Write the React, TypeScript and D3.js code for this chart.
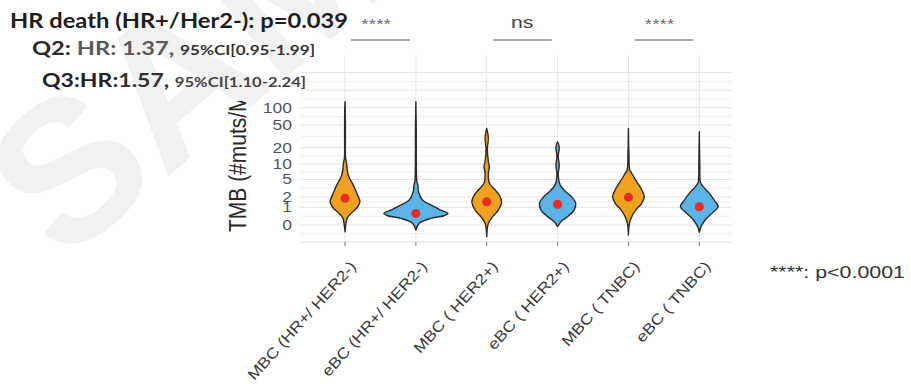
import * as d3 from "d3";

const W = 911;
const H = 388;

// categories along the x axis
const categories = [
  "MBC (HR+/ HER2-)",
  "eBC (HR+/ HER2-)",
  "MBC ( HER2+)",
  "eBC ( HER2+)",
  "MBC ( TNBC)",
  "eBC ( TNBC)",
];
const fills = ["#f0a21e", "#5bb4e5", "#f0a21e", "#5bb4e5", "#f0a21e", "#5bb4e5"];

// mean TMB (red dots)
const means = [1.86, 0.58, 1.5, 1.26, 1.97, 1.05];

// violin outlines: [TMB, relative density]
const violinMbcHr = [
  [-0.3, 0], [0.07, 0.03], [0.3, 0.06], [0.58, 0.18], [0.93, 0.35], [1.5, 0.45],
  [2.25, 0.38], [3.8, 0.25], [6.1, 0.1], [11, 0.04], [12.8, 0.018], [30, 0.012],
  [80, 0.01], [126.6, 0],
];
const violinEbcHr = [
  [-0.22, 0], [0.07, 0.1], [0.3, 0.45], [0.44, 0.85], [0.58, 0.97], [0.8, 0.76],
  [1.2, 0.45], [1.67, 0.2], [2.7, 0.08], [3.8, 0.06], [4.5, 0.03], [10, 0.015],
  [40, 0.012], [126.6, 0],
];
const violinMbcHer2 = [
  [-0.58, 0], [0.07, 0.05], [0.39, 0.18], [0.8, 0.35], [1.5, 0.45], [2.25, 0.38],
  [3.0, 0.25], [4.2, 0.08], [6.6, 0.05], [8.9, 0.08], [11, 0.05], [19.4, 0.02],
  [29.2, 0.05], [43.8, 0],
];
const violinEbcHer2 = [
  [-0.065, 0], [0.14, 0.1], [0.39, 0.3], [0.8, 0.5], [1.35, 0.55], [2.04, 0.42],
  [2.7, 0.25], [3.8, 0.08], [6.1, 0.02], [9.6, 0.05], [13.7, 0.02], [20.7, 0.05],
  [25.5, 0],
];
const violinMbcTnbc = [
  [-0.48, 0], [0.07, 0.03], [0.39, 0.1], [0.8, 0.22], [1.35, 0.4], [2.04, 0.48],
  [3.0, 0.4], [4.5, 0.25], [6.6, 0.1], [7.7, 0.04], [15, 0.015], [43.8, 0],
];
const violinEbcTnbc = [
  [-0.33, 0], [-0.065, 0.05], [0.22, 0.18], [0.58, 0.38], [1.05, 0.57], [1.67, 0.45],
  [2.5, 0.3], [3.8, 0.08], [4.5, 0.03], [10, 0.015], [38.2, 0],
];
const violins = [violinMbcHr, violinEbcHr, violinMbcHer2, violinEbcHer2, violinMbcTnbc, violinEbcTnbc];

const tickValues = [0, 1, 2, 5, 10, 20, 50, 100];
const gridBreaks = [0, 1, 2, 5, 10, 20, 50, 100, 200, 400];

const brackets = [
  { from: 0, to: 1, label: "****" },
  { from: 2, to: 3, label: "ns" },
  { from: 4, to: 5, label: "****" },
];

const PANEL = { left: 301, right: 731, top: 55, bottom: 242 };
const STRETCH = 1.25;
const SANS = "'Liberation Sans', Arial, sans-serif";
const TITLE_FONT = "Lato, 'Open Sans', sans-serif";

export default function App() {
  const y = d3.scaleSymlog().constant(1).domain([-0.95, 800]).range([PANEL.bottom, PANEL.top]);
  const x = d3.scalePoint<string>().domain(categories).range([345, 699.3]);
  const w = d3.scaleLinear().domain([0, 1]).range([0, 33]);

  // minor grid lines half way between breaks (in screen space)
  const minor: number[] = [];
  const allBreaks = [-0.95, ...gridBreaks];
  for (let i = 0; i < allBreaks.length - 1; i++) {
    minor.push(y.invert((y(allBreaks[i]) + y(allBreaks[i + 1])) / 2));
  }

  return (
    <svg width={W} height={H} style={{ position: "absolute", left: 0, top: 0, background: "#fff" }}>
      {/* faint watermark */}
      <text
        transform="translate(62,265) rotate(-40)"
        fontFamily={SANS}
        fontWeight="bold"
        fontSize={200}
        fill="#f1f1f1"
      >
        SAMPLE
      </text>

      {/* grid */}
      {minor.map((v, i) => (
        <line key={"mn" + i} x1={PANEL.left} x2={PANEL.right} y1={y(v)} y2={y(v)} stroke="#ececec" strokeWidth={0.8} />
      ))}
      {gridBreaks.map((v) => (
        <line key={"mj" + v} x1={PANEL.left} x2={PANEL.right} y1={y(v)} y2={y(v)} stroke="#e2e2e2" strokeWidth={1} />
      ))}
      {categories.map((c) => (
        <line key={"v" + c} x1={x(c)} x2={x(c)} y1={PANEL.top} y2={PANEL.bottom} stroke="#e6e6e6" strokeWidth={1} />
      ))}
      <line x1={PANEL.left} x2={PANEL.right} y1={PANEL.bottom} y2={PANEL.bottom} stroke="#e2e2e2" />

      {/* violins */}
      {violins.map((pts, i) => {
        const cx = x(categories[i])!;
        const area = d3
          .area<number[]>()
          .y((d) => y(d[0]))
          .x0((d) => cx - w(d[1]))
          .x1((d) => cx + w(d[1]))
          .curve(d3.curveCatmullRom.alpha(0.5));
        return (
          <g key={"vi" + i}>
            <path d={area(pts) || ""} fill={fills[i]} stroke="#2b2b2b" strokeWidth={1.4} strokeLinejoin="round" />
            <circle cx={cx} cy={y(means[i])} r={4.5} fill="#ee2a24" />
          </g>
        );
      })}

      {/* x ticks */}
      {categories.map((c) => (
        <line key={"t" + c} x1={x(c)} x2={x(c)} y1={PANEL.bottom} y2={PANEL.bottom + 4} stroke="#777" />
      ))}

      {/* y tick labels */}
      {tickValues.map((v) => (
        <text
          key={"yl" + v}
          transform={`translate(292,${y(v) + 5}) scale(${STRETCH},1)`}
          textAnchor="end"
          fontFamily={SANS}
          fontSize={14}
          fill="#505464"
        >
          {v}
        </text>
      ))}

      {/* y axis title, cut off at the top */}
      <clipPath id="ytitle">
        <rect x={200} y={101} width={80} height={200} />
      </clipPath>
      <g clipPath="url(#ytitle)">
        <text
          transform={`translate(246,232) scale(1.1,1) rotate(-90)`}
          fontFamily={SANS}
          fontSize={21}
          fill="#2a2a2a"
        >
          TMB (#muts/Mb)
        </text>
      </g>

      {/* x tick labels */}
      {categories.map((c) => (
        <text
          key={"xl" + c}
          transform={`translate(${x(c)! + 12},267) rotate(-48) scale(1.17,1)`}
          textAnchor="end"
          fontFamily={SANS}
          fontSize={15}
          fill="#3a3a3a"
        >
          {c}
        </text>
      ))}

      {/* significance brackets */}
      {brackets.map((b, i) => {
        const x1 = x(categories[b.from])! + 6;
        const x2 = x(categories[b.to])! - 6;
        const mid = (x1 + x2) / 2;
        return (
          <g key={"br" + i}>
            <line x1={x1} x2={x2} y1={40} y2={40} stroke="#a9a9a9" strokeWidth={2} />
            {b.label === "ns" ? (
              <text transform={`translate(${mid},28) scale(${STRETCH},1)`} textAnchor="middle" fontFamily={SANS} fontSize={17} fill="#444">
                ns
              </text>
            ) : (
              <text transform={`translate(${mid - 4},29) scale(${STRETCH},1)`} textAnchor="middle" fontFamily={SANS} fontSize={14} fill="#666" letterSpacing={0.5}>
                {b.label}
              </text>
            )}
          </g>
        );
      })}

      {/* legend for stars */}
      <text x={770} y={278} fontFamily={SANS} fontSize={16} fill="#333" textLength={135} lengthAdjust="spacingAndGlyphs">
        ****: p&lt;0.0001
      </text>

      {/* hazard ratio annotation */}
      <text x={10} y={28} fontFamily={TITLE_FONT} fontWeight="bold" fontSize={20} fill="#1e1e1e" textLength={338} lengthAdjust="spacingAndGlyphs">
        HR death (HR+/Her2-): p=0.039
      </text>
      <text x={32} y={55} fontFamily={TITLE_FONT} fontWeight="bold" fontSize={18} fill="#2a2a2a" textLength={283} lengthAdjust="spacingAndGlyphs">
        <tspan>Q2: </tspan>
        <tspan fill="#5a5a5a">HR: 1.37, </tspan>
        <tspan fontSize={13} fill="#333">95%CI[0.95-1.99]</tspan>
      </text>
      <text x={42} y={87} fontFamily={TITLE_FONT} fontWeight="bold" fontSize={18} fill="#222" textLength={264} lengthAdjust="spacingAndGlyphs">
        <tspan>Q3:HR:</tspan>
        <tspan fill="#333">1.57, </tspan>
        <tspan fontSize={13} fill="#444">95%CI[1.10-2.24]</tspan>
      </text>
    </svg>
  );
}
